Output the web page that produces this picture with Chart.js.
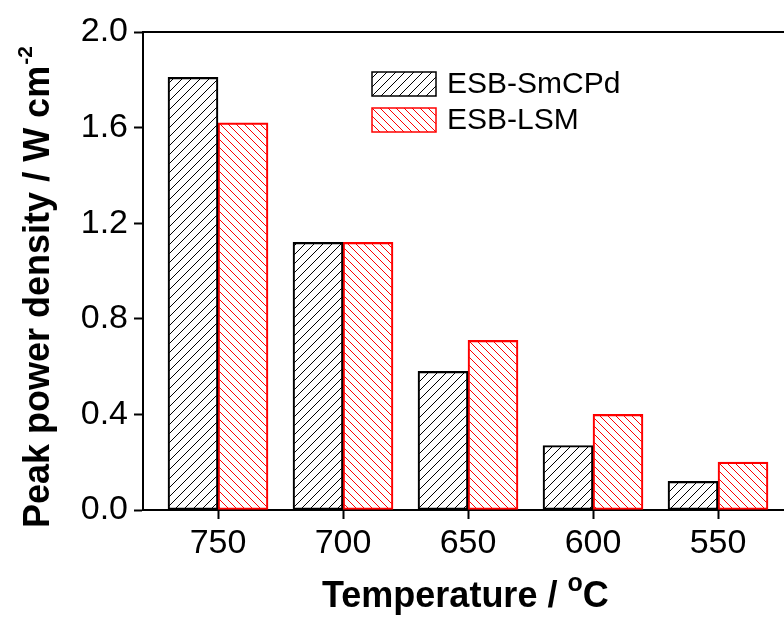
<!DOCTYPE html>
<html>
<head>
<meta charset="utf-8">
<script src="https://cdn.jsdelivr.net/npm/chart.js@4/dist/chart.umd.min.js"></script>
<style>
  html, body { margin: 0; padding: 0; background: #fff; overflow: hidden; }
  canvas { display: block; }
</style>
</head>
<body>
<canvas id="pdChart" width="784" height="619"></canvas>
<script>
// temperatures (deg C) and peak power densities (W cm-2)
const temps = ['750', '700', '650', '600', '550'];
const smcpd = [1.81, 1.12, 0.58, 0.27, 0.12];
const lsm = [1.62, 1.12, 0.71, 0.40, 0.20];
const yTicks = [0.0, 0.4, 0.8, 1.2, 1.6, 2.0];

// diagonal hatch fill, dir 1 = '/', -1 = '\'
function hatch(color, dir, s) {
    const c = document.createElement('canvas');
    c.width = s; c.height = s;
    const g = c.getContext('2d');
    g.strokeStyle = color;
    g.lineWidth = 1;
    g.beginPath();
    if (dir > 0) {
        g.moveTo(0, s); g.lineTo(s, 0);
        g.moveTo(-1, 1); g.lineTo(1, -1);
        g.moveTo(s - 1, s + 1); g.lineTo(s + 1, s - 1);
    } else {
        g.moveTo(0, 0); g.lineTo(s, s);
        g.moveTo(s - 1, -1); g.lineTo(s + 1, 1);
        g.moveTo(-1, s - 1); g.lineTo(1, s + 1);
    }
    g.stroke();
    return g.createPattern(c, 'repeat');
}

const toPoints = arr => arr.map((v, i) => ({ x: i, y: v }));

// legend, frame top line and axis titles with superscripts
const decorations = {
    id: 'decorations',
    afterDraw(chart) {
        const ctx = chart.ctx;
        const area = chart.chartArea;
        ctx.save();

        // top frame line
        ctx.strokeStyle = '#000';
        ctx.lineWidth = 2;
        ctx.beginPath();
        ctx.moveTo(area.left - 1, area.top);
        ctx.lineTo(chart.width, area.top);
        ctx.stroke();

        // legend
        chart.data.datasets.forEach((ds, i) => {
            const bx = 372, by = 72 + i * 36, bw = 64, bh = 24;
            ctx.fillStyle = ds.backgroundColor;
            ctx.fillRect(bx, by, bw, bh);
            ctx.strokeStyle = ds.borderColor;
            ctx.lineWidth = 1.5;
            ctx.strokeRect(bx, by, bw, bh);
            ctx.fillStyle = '#000';
            ctx.font = '30px "Liberation Sans", Arial, sans-serif';
            ctx.textAlign = 'left';
            ctx.textBaseline = 'middle';
            ctx.fillText(ds.label, 447, by + bh / 2 + 1);
        });

        ctx.fillStyle = '#000';
        ctx.textBaseline = 'alphabetic';
        ctx.textAlign = 'left';

        // y title
        ctx.save();
        ctx.translate(49, 528);
        ctx.rotate(-Math.PI / 2);
        ctx.font = 'bold 36px "Liberation Sans", Arial, sans-serif';
        const yMain = 'Peak power density / W cm';
        ctx.fillText(yMain, 0, 0);
        const yw = ctx.measureText(yMain).width;
        ctx.font = 'bold 21px "Liberation Sans", Arial, sans-serif';
        ctx.fillText('-2', yw + 1, -17);
        ctx.restore();

        // x title
        ctx.font = 'bold 36px "Liberation Sans", Arial, sans-serif';
        const xMain = 'Temperature / ';
        let x = 322;
        ctx.fillText(xMain, x, 607);
        x += ctx.measureText(xMain).width;
        ctx.font = 'bold 25px "Liberation Sans", Arial, sans-serif';
        ctx.fillText('o', x, 591);
        x += ctx.measureText('o').width;
        ctx.font = 'bold 36px "Liberation Sans", Arial, sans-serif';
        ctx.fillText('C', x, 607);

        ctx.restore();
    }
};

new Chart(document.getElementById('pdChart'), {
    type: 'bar',
    data: {
        datasets: [{
            label: 'ESB-SmCPd',
            data: toPoints(smcpd),
            backgroundColor: hatch('#000', 1, 9),
            borderColor: '#000',
            borderWidth: 1.5,
            borderSkipped: false,
            barThickness: 50
        }, {
            label: 'ESB-LSM',
            data: toPoints(lsm),
            backgroundColor: hatch('#ff0000', -1, 8),
            borderColor: '#ff0000',
            borderWidth: 1.5,
            borderSkipped: false,
            barThickness: 50
        }]
    },
    options: {
        responsive: false,
        animation: false,
        layout: { padding: { top: 32, right: 0, left: 0, bottom: 0 } },
        plugins: {
            legend: { display: false },
            tooltip: { enabled: false }
        },
        scales: {
            x: {
                type: 'linear',
                position: 'bottom',
                offset: false,
                min: -0.6,
                max: 4.528,
                afterBuildTicks: scale => {
                    scale.ticks = temps.map((t, i) => ({ value: i }));
                },
                afterFit: scale => { scale.height = 109; },
                grid: {
                    offset: false,
                    drawOnChartArea: false,
                    tickLength: 9,
                    tickWidth: 2,
                    tickColor: '#000'
                },
                border: { color: '#000', width: 2 },
                ticks: {
                    color: '#000',
                    font: { family: '"Liberation Sans", Arial, sans-serif', size: 34 },
                    padding: 4,
                    maxRotation: 0,
                    callback: v => temps[v]
                }
            },
            y: {
                min: 0,
                max: 2.0,
                afterBuildTicks: scale => {
                    scale.ticks = yTicks.map(v => ({ value: v }));
                },
                afterFit: scale => { scale.width = 143; },
                grid: {
                    drawOnChartArea: false,
                    tickLength: 9,
                    tickWidth: 2,
                    tickColor: '#000'
                },
                border: { color: '#000', width: 2 },
                ticks: {
                    color: '#000',
                    font: { family: '"Liberation Sans", Arial, sans-serif', size: 34 },
                    padding: 6,
                    callback: v => v.toFixed(1)
                }
            }
        }
    },
    plugins: [decorations]
});
</script>
</body>
</html>
